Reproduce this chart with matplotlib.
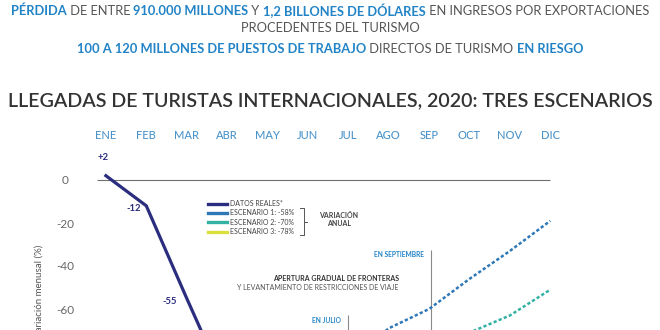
"""
Llegadas de turistas internacionales 2020: tres escenarios (OMT)
"""

import matplotlib
matplotlib.use("Agg")
import matplotlib.pyplot as plt
from matplotlib.lines import Line2D

plt.rcParams['font.family'] = ['Lato', 'DejaVu Sans']

# ---- data ----
months = ['ENE', 'FEB', 'MAR', 'ABR', 'MAY', 'JUN',
          'JUL', 'AGO', 'SEP', 'OCT', 'NOV', 'DIC']
real_idx = [0, 1, 2, 3]
real_vals = [2, -12, -55, -97]
real_labels = ['+2', '-12', '-55']

esc1_idx = [6, 7, 8, 9, 10, 11]
esc1_vals = [-85, -69, -60, -46, -33, -19]
esc2_idx = [8, 9, 10, 11]
esc2_vals = [-80, -71, -63, -51]
esc3_idx = [9, 10, 11]
esc3_vals = [-92, -84, -76]

yticks = [0, -20, -40, -60]
legend_labels = ['DATOS REALES*', 'ESCENARIO 1: -58%',
                 'ESCENARIO 2: -70%', 'ESCENARIO 3: -78%']

# ---- colours ----
NAVY = '#2b2d7e'
BLUE = '#2f78b8'
TEAL = '#33b2a4'
YELLOW = '#d9e03c'
HEAD_BLUE = '#2283c6'
GRAY = '#555555'
MONTH_BLUE = '#4a93c9'

W, H = 660, 330
fig = plt.figure(figsize=(W / 100, H / 100), dpi=100)
fig.patch.set_facecolor('white')


def rich_line(y_px, parts, size):
    """Make the pieces of a line that mixes bold blue and plain gray text."""
    texts = [fig.text(0, 1 - y_px / H, s, color=c, fontweight=w,
                      fontsize=size, va='center', ha='left')
             for s, c, w in parts]
    return texts


def place_line(texts, renderer):
    """Put the pieces side by side, centred on the figure."""
    widths = [t.get_window_extent(renderer).width for t in texts]
    x = (W - sum(widths)) / 2
    for t, w in zip(texts, widths):
        t.set_x(x / W)
        x += w
    return sum(widths)


# ---- header ----
head_size = 8.5
line1 = rich_line(11, [('PÉRDIDA', HEAD_BLUE, 'bold'),
                       (' DE ENTRE ', GRAY, 'normal'),
                       ('910.000 MILLONES', HEAD_BLUE, 'bold'),
                       (' Y ', GRAY, 'normal'),
                       ('1,2 BILLONES DE DÓLARES', HEAD_BLUE, 'bold'),
                       (' EN INGRESOS POR EXPORTACIONES', GRAY, 'normal')],
                  head_size)
line2 = rich_line(28, [('PROCEDENTES DEL TURISMO', GRAY, 'normal')], head_size)
line3 = rich_line(49, [('100 A 120 MILLONES DE PUESTOS DE TRABAJO', HEAD_BLUE, 'bold'),
                       (' DIRECTOS DE TURISMO ', GRAY, 'normal'),
                       ('EN RIESGO', HEAD_BLUE, 'bold')],
                  head_size)
title = fig.text(0.5, 1 - 101 / H,
                 'LLEGADAS DE TURISTAS INTERNACIONALES, 2020: TRES ESCENARIOS',
                 ha='center', va='center', fontsize=13, color='#333333',
                 fontweight='semibold')

# fit header sizes to the widths in the reference
fig.canvas.draw()
r = fig.canvas.get_renderer()
w1 = place_line(line1, r)
scale = 643 / w1
for t in line1 + line2 + line3:
    t.set_fontsize(head_size * scale)
tw = title.get_window_extent(r).width
title.set_fontsize(13 * 640 / tw)
fig.canvas.draw()
r = fig.canvas.get_renderer()
for ln in (line1, line2, line3):
    place_line(ln, r)

# ---- axes (bottom part runs off the picture, as in the reference) ----
x0, x1 = -0.22, 11.08
y0, y1 = -110, 25
left_px, px_per_month = 97, 40.4
ax_w = (x1 - x0) * px_per_month
ax_h = (y1 - y0) * 2.15
top_px = 180 - y1 * 2.15
ax = fig.add_axes([left_px / W, 1 - (top_px + ax_h) / H, ax_w / W, ax_h / H])
ax.set_xlim(x0, x1)
ax.set_ylim(y0, y1)
for s in ax.spines.values():
    s.set_visible(False)
ax.set_xticks([])
ax.set_yticks(yticks)
ax.set_yticklabels([str(v) for v in yticks])
ax.tick_params(axis='y', length=0, pad=23, labelsize=8.5, labelcolor='#666666')
for lab in ax.get_yticklabels():
    lab.set_horizontalalignment('center')

# month labels across the top
for i, m in enumerate(months):
    ax.text(i, 20.9, m, ha='center', va='center', fontsize=8,
            fontweight='medium', color=MONTH_BLUE)

ax.text(-0.126, 0.43, 'Variación menusal (%)', transform=ax.transAxes,
        rotation=90, ha='center', va='center', fontsize=7, color='#555555')

# zero line
ax.hlines(0, x0, 11, color='#6e6e6e', lw=0.8)

# reopening markers
ax.vlines(8.05, y0, -32.5, color='#8a8a8a', lw=0.8)
ax.vlines(6, y0, -63, color='#8a8a8a', lw=0.8)
ax.annotate('EN SEPTIEMBRE', xy=(8.05, -34.5), xytext=(-5, 0),
            textcoords='offset points', ha='right', va='center',
            fontsize=4.8, fontweight='bold', color=HEAD_BLUE)
ax.annotate('EN JULIO', xy=(6, -65.5), xytext=(-5, 0),
            textcoords='offset points', ha='right', va='center',
            fontsize=4.8, fontweight='bold', color=HEAD_BLUE)
ax.text(7.25, -46, 'APERTURA GRADUAL DE FRONTERAS', ha='right', va='center',
        fontsize=5, fontweight='bold', color='#333333')
ax.text(7.25, -50.2, 'Y LEVANTAMIENTO DE RESTRICCIONES DE VIAJE', ha='right',
        va='center', fontsize=5, color='#555555')

# series
dots = (0, (1.3, 0.9))
ax.plot(esc3_idx, esc3_vals, color=YELLOW, lw=1.8, ls=dots)
ax.plot(esc2_idx, esc2_vals, color=TEAL, lw=1.8, ls=dots)
ax.plot(esc1_idx, esc1_vals, color=BLUE, lw=1.8, ls=dots)
ax.plot(real_idx, real_vals, color=NAVY, lw=2.3, solid_joinstyle='miter')

offsets = [(-2, 13), (-9, -2), (-12, -2)]
for i, (lab, off) in enumerate(zip(real_labels, offsets)):
    ax.annotate(lab, xy=(real_idx[i], real_vals[i]), xytext=off,
                textcoords='offset points', ha='center', va='center',
                fontsize=6.8, fontweight='bold', color=NAVY)

# legend
handles = [Line2D([], [], color=c, lw=2.4) for c in (NAVY, BLUE, TEAL, YELLOW)]
leg = ax.legend(handles, legend_labels, loc='upper left',
                bbox_to_anchor=(208 / W, 1 - 200 / H),
                bbox_transform=fig.transFigure, frameon=False, fontsize=5,
                handlelength=2.7, handletextpad=0.45, labelspacing=0.35,
                borderpad=0, borderaxespad=0)
for t in leg.get_texts():
    t.set_color('#444444')

# bracket and "variación anual"
bx = [300, 304, 304, 300]
by = [208, 208, 235, 235]
fig.add_artist(Line2D([v / W for v in bx], [1 - v / H for v in by],
                      color='#555555', lw=0.7, transform=fig.transFigure))
fig.add_artist(Line2D([304 / W, 306.5 / W], [1 - 221.5 / H, 1 - 221.5 / H],
                      color='#555555', lw=0.7, transform=fig.transFigure))
fig.text(339 / W, 1 - 215 / H, 'VARIACIÓN', ha='center', va='center',
         fontsize=5, fontweight='bold', color='#444444')
fig.text(339 / W, 1 - 224 / H, 'ANUAL', ha='center', va='center',
         fontsize=5, fontweight='bold', color='#444444')

fig.savefig('out.png', dpi=100)
